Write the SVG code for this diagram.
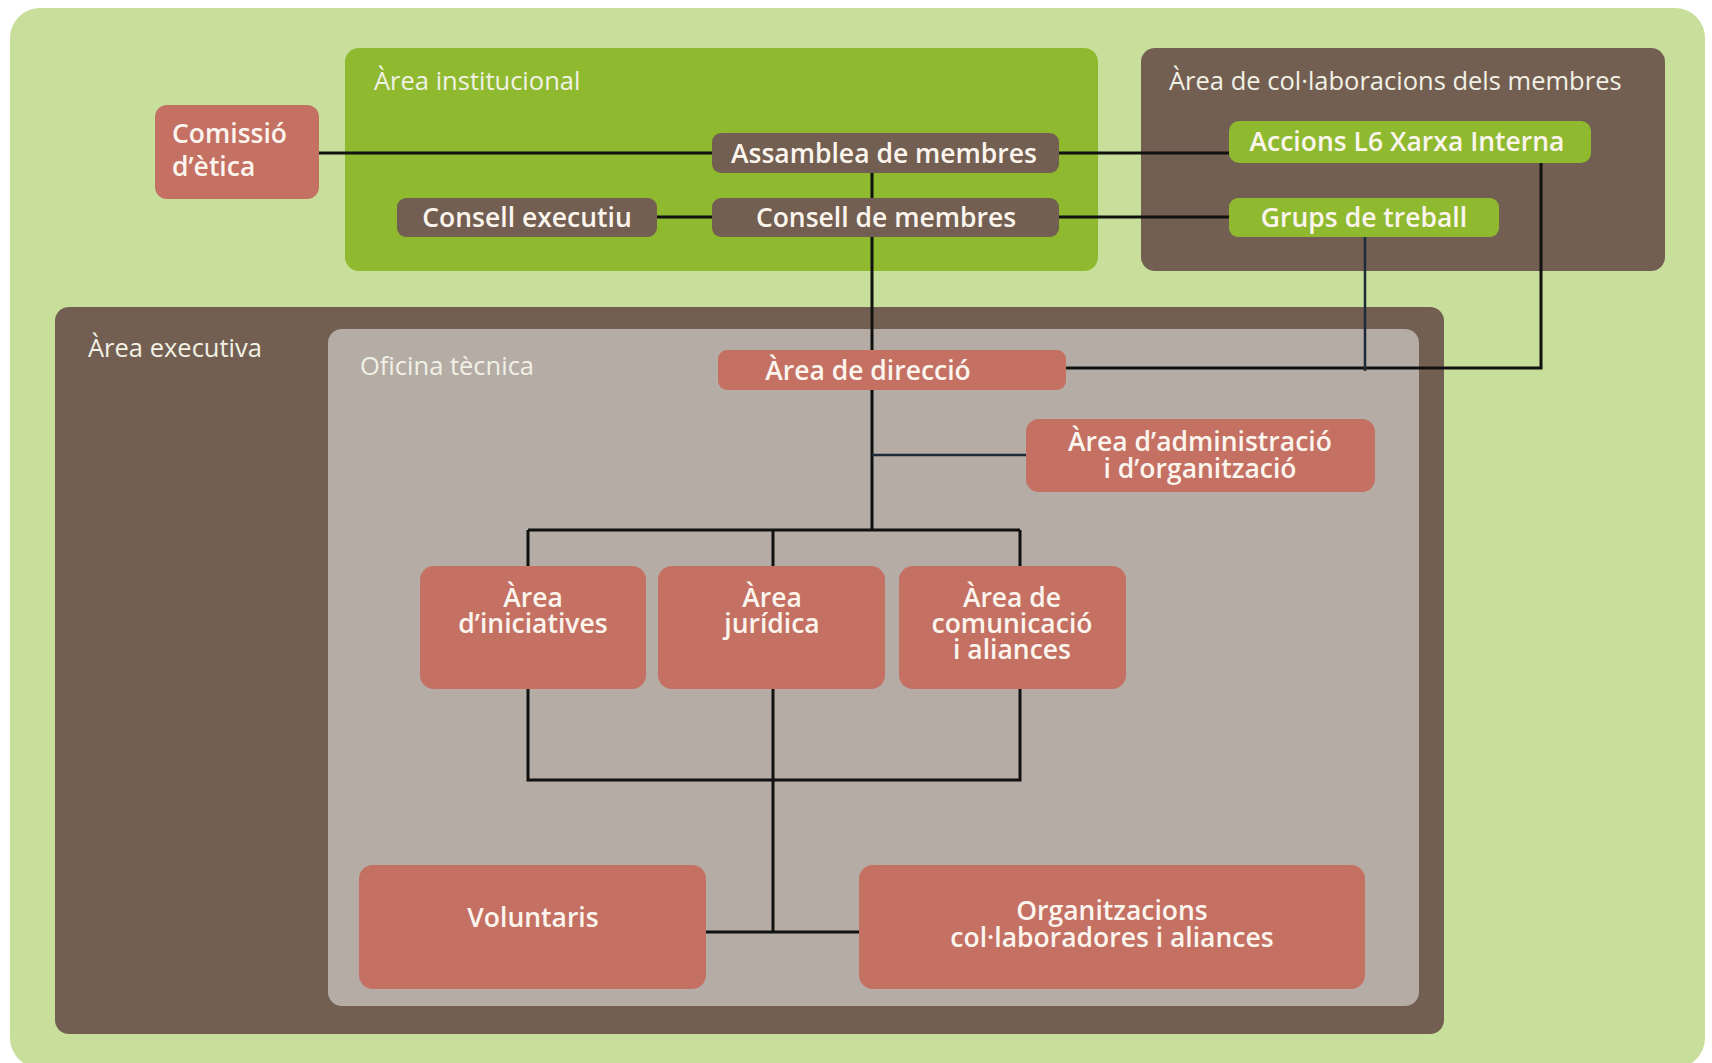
<svg xmlns="http://www.w3.org/2000/svg" width="1712" height="1063" viewBox="0 0 1712 1063">
<style>
.title{font-family:"Open Sans","Noto Sans",sans-serif;font-size:25.5px;fill:#f1f1e6}
.lbl{font-family:"Open Sans","Noto Sans",sans-serif;font-size:26.5px;font-weight:600;fill:#fbf5ee}
.mid{text-anchor:middle}
.red{fill:#c47063}
.brown{fill:#735f51}
.green{fill:#8fba2f}
.ln{stroke:#111;stroke-width:3;fill:none}
.nv{stroke:#1c2b3a;stroke-width:2.5;fill:none}
</style>
<rect x="0" y="0" width="1712" height="1063" fill="#ffffff"/>
<g id="bg"><rect x="10" y="8" width="1695" height="1060" rx="30" fill="#c8df9b"/></g>
<g id="area-institucional"><rect x="345" y="48" width="753" height="223" rx="14" class="green"/><text x="374" y="90" class="title">Àrea institucional</text></g>
<g id="area-collab"><rect x="1141" y="48" width="524" height="223" rx="14" class="brown"/><text x="1169" y="90" class="title">Àrea de col·laboracions dels membres</text></g>
<g id="area-executiva"><rect x="55" y="307" width="1389" height="727" rx="14" class="brown"/><text x="88" y="357" class="title">Àrea executiva</text></g>
<g id="oficina"><rect x="328" y="329" width="1091" height="677" rx="14" fill="#b5aca5"/><text x="360" y="375" class="title">Oficina tècnica</text></g>
<g id="connectors">
<path class="ln" d="M319 153H712M1059 153H1229M657 217H712M1059 217H1229M872 173V198M872 237V350"/>
<path class="ln" d="M1541 163V368H1066"/>
<path class="nv" d="M1365 237V371"/>
<path class="ln" d="M872 390V530M528 530H1020M528 530V566M773 530V566M1020 530V566"/>
<path class="nv" d="M872 455H1026"/>
<path class="ln" d="M528 689V780H1020V689M773 689V932M706 932H859"/>
</g>
<g id="comissio"><rect x="155" y="105" width="164" height="94" rx="12" class="red"/><text class="lbl" x="172" y="143">Comissió</text><text class="lbl" x="172" y="176">d’ètica</text></g>
<g id="assamblea"><rect x="712" y="133" width="347" height="40" rx="9" class="brown"/><text class="lbl mid" x="884" y="163">Assamblea de membres</text></g>
<g id="consell-membres"><rect x="712" y="198" width="347" height="39" rx="9" class="brown"/><text class="lbl mid" x="886" y="227">Consell de membres</text></g>
<g id="consell-executiu"><rect x="397" y="198" width="260" height="39" rx="9" class="brown"/><text class="lbl mid" x="527" y="227">Consell executiu</text></g>
<g id="accions"><rect x="1229" y="121" width="362" height="42" rx="10" class="green"/><text class="lbl mid" x="1407" y="151">Accions L6 Xarxa Interna</text></g>
<g id="grups"><rect x="1229" y="198" width="270" height="39" rx="9" class="green"/><text class="lbl mid" x="1364" y="227">Grups de treball</text></g>
<g id="direccio"><rect x="718" y="350" width="348" height="40" rx="9" class="red"/><text class="lbl mid" x="868" y="380">Àrea de direcció</text></g>
<g id="administracio"><rect x="1026" y="419" width="349" height="73" rx="13" class="red"/><text class="lbl mid" x="1200" y="451">Àrea d’administració</text><text class="lbl mid" x="1200" y="478">i d’organització</text></g>
<g id="iniciatives"><rect x="420" y="566" width="226" height="123" rx="14" class="red"/><text class="lbl mid" x="533" y="607">Àrea</text><text class="lbl mid" x="533" y="633">d’iniciatives</text></g>
<g id="juridica"><rect x="658" y="566" width="227" height="123" rx="14" class="red"/><text class="lbl mid" x="772" y="607">Àrea</text><text class="lbl mid" x="772" y="633">jurídica</text></g>
<g id="comunicacio"><rect x="899" y="566" width="227" height="123" rx="14" class="red"/><text class="lbl mid" x="1012" y="607">Àrea de</text><text class="lbl mid" x="1012" y="633">comunicació</text><text class="lbl mid" x="1012" y="659">i aliances</text></g>
<g id="voluntaris"><rect x="359" y="865" width="347" height="124" rx="14" class="red"/><text class="lbl mid" x="533" y="927">Voluntaris</text></g>
<g id="organitzacions"><rect x="859" y="865" width="506" height="124" rx="14" class="red"/><text class="lbl mid" x="1112" y="920">Organitzacions</text><text class="lbl mid" x="1112" y="947">col·laboradores i aliances</text></g>
</svg>
